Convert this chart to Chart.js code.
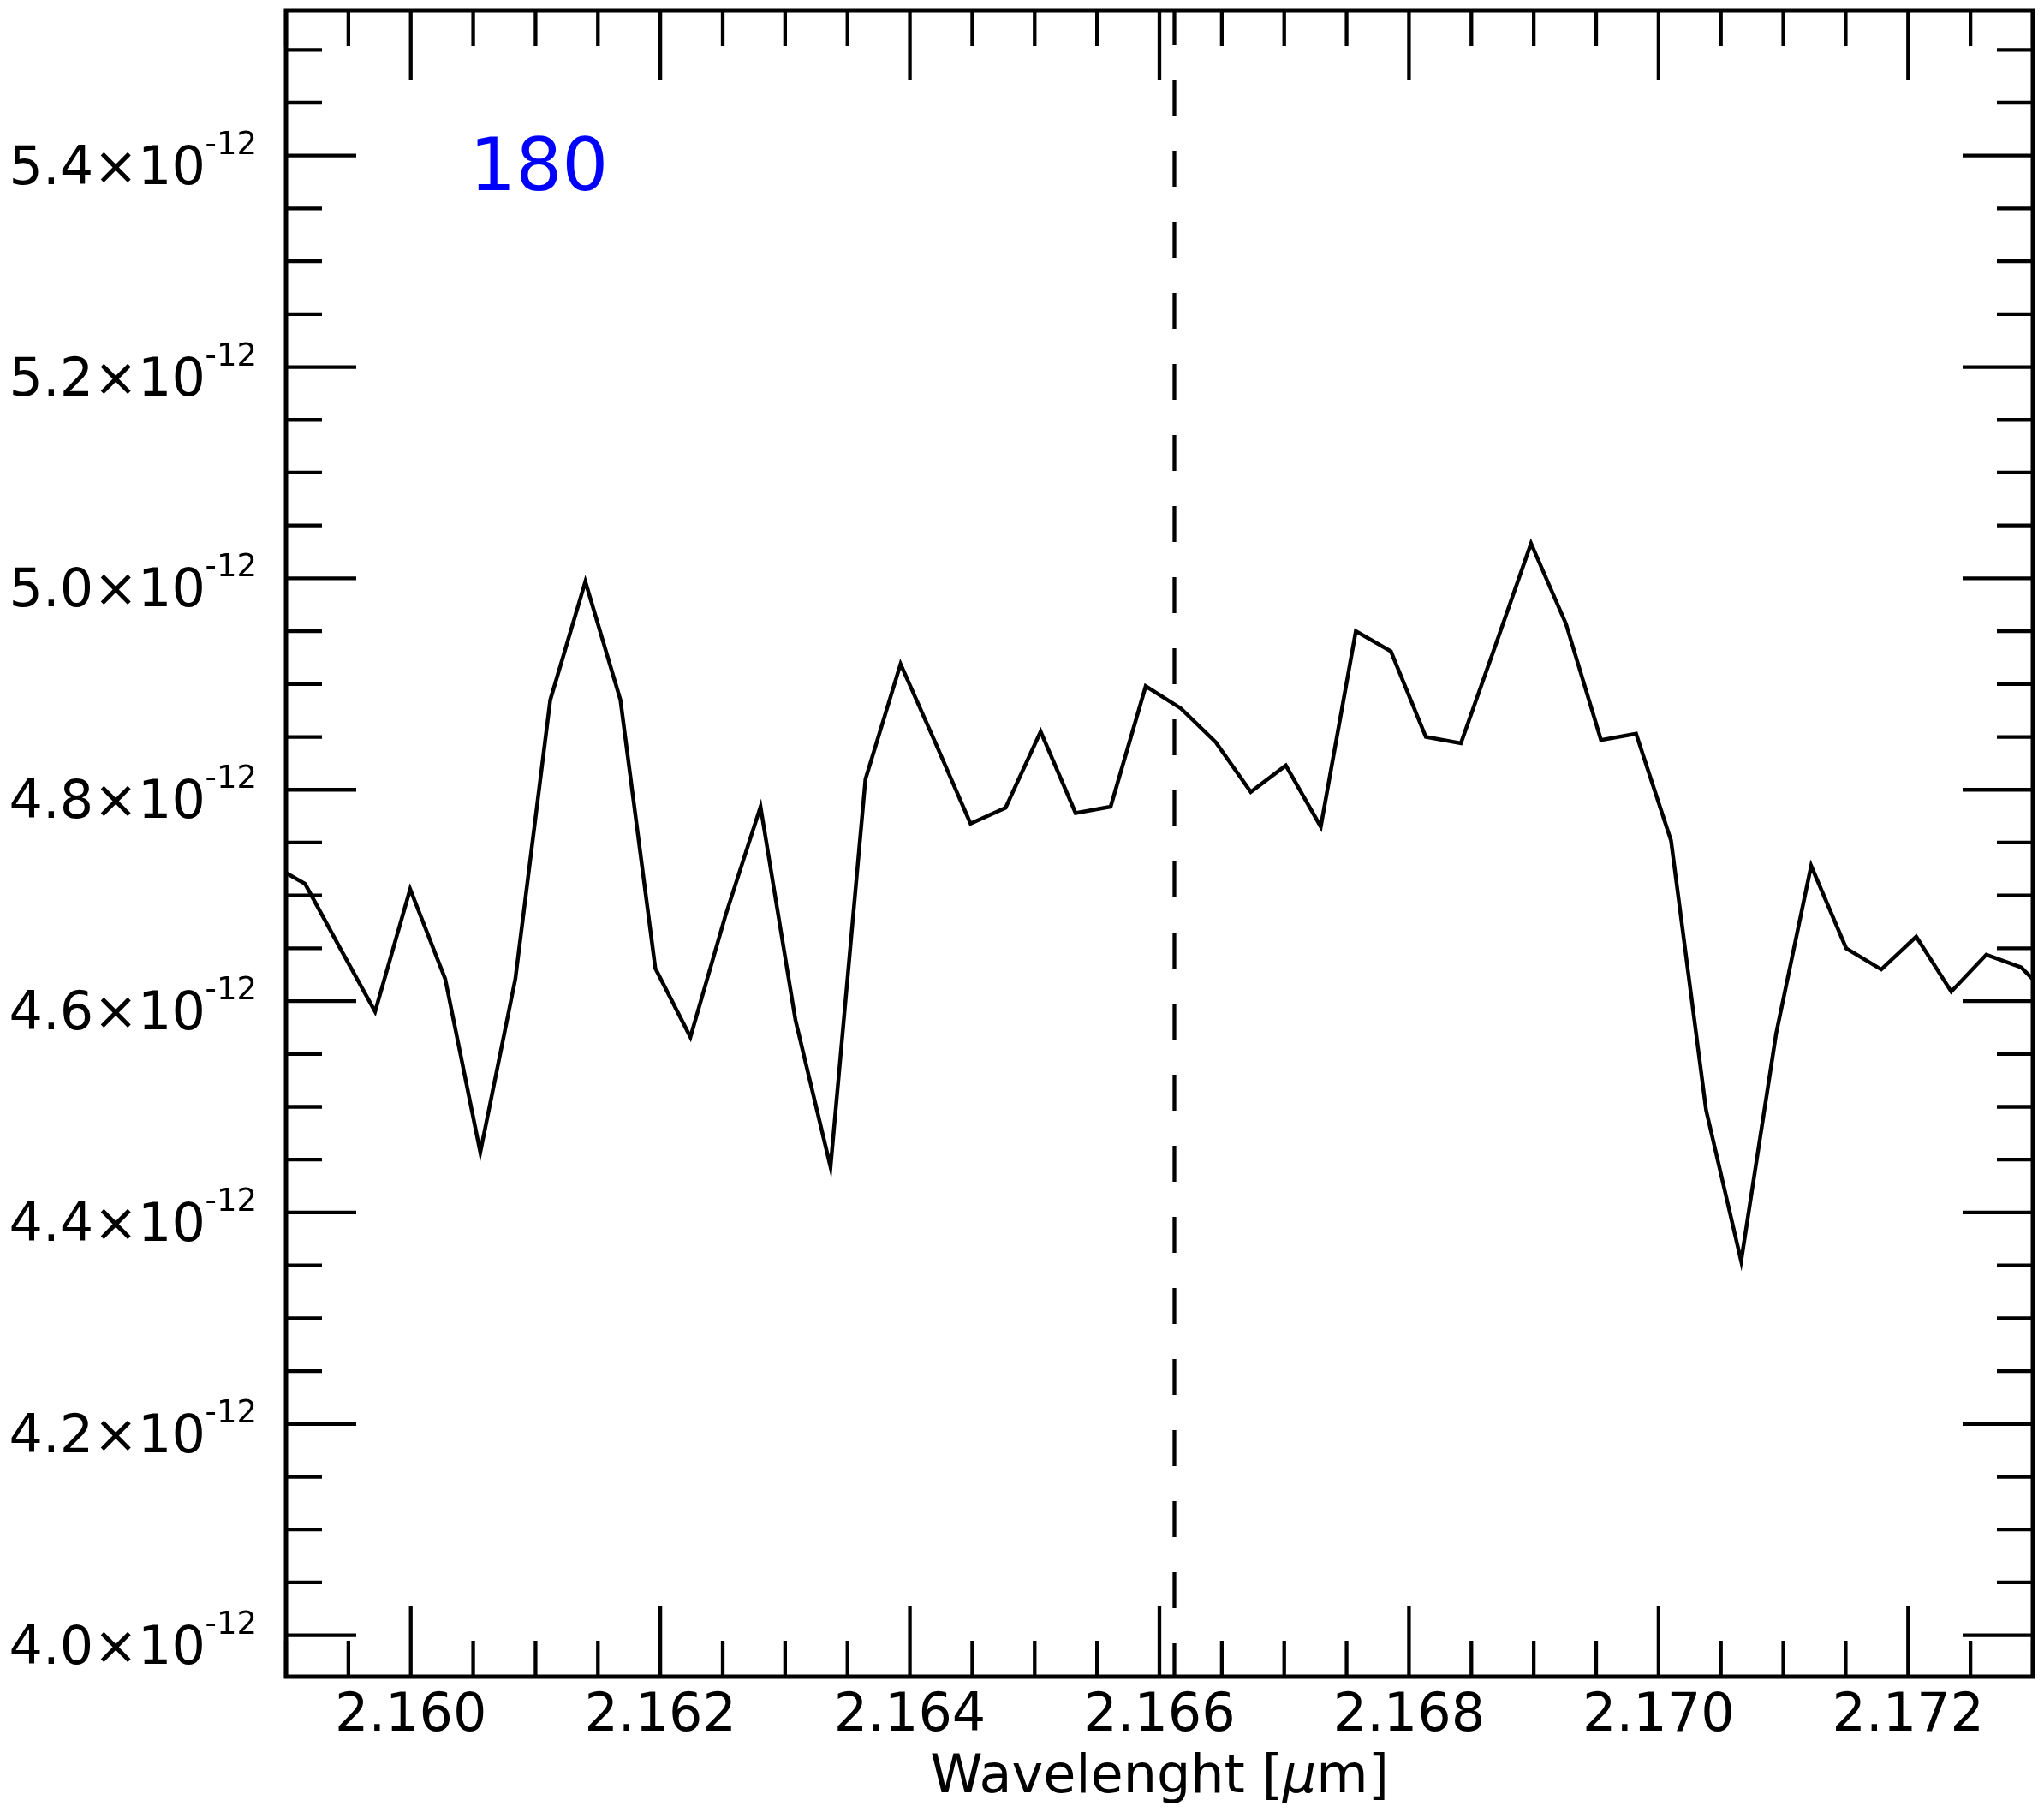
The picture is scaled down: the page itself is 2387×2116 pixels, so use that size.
<!DOCTYPE html>
<html>
<head>
<meta charset="utf-8">
<script src="https://cdn.jsdelivr.net/npm/chart.js@4/dist/chart.umd.min.js"></script>
<style>
    html, body { margin: 0; padding: 0; background: #fff; }
    canvas { display: block; }
</style>
</head>
<body>
<canvas id="spectrumChart" width="2387" height="2116"></canvas>
<script>
// Wavelength of each spectral pixel [micron]
const wavelength = [
    2.158872, 2.159153, 2.159434, 2.159714, 2.159995, 2.160276, 2.160557, 2.160838,
    2.161118, 2.161399, 2.161680, 2.161960, 2.162241, 2.162522, 2.162803, 2.163083,
    2.163364, 2.163644, 2.163925, 2.164206, 2.164486, 2.164767, 2.165048, 2.165328,
    2.165609, 2.165890, 2.166171, 2.166451, 2.166732, 2.167013, 2.167293, 2.167574,
    2.167855, 2.168135, 2.168416, 2.168697, 2.168978, 2.169258, 2.169539, 2.169820,
    2.170100, 2.170381, 2.170662, 2.170942, 2.171223, 2.171504, 2.171785, 2.172065,
    2.172346, 2.172627, 2.172907, 2.173188
];

// Flux, in units of 1e-12
const flux = [
    4.730, 4.711, 4.650, 4.590, 4.706, 4.621, 4.457, 4.621,
    4.885, 4.997, 4.885, 4.631, 4.566, 4.681, 4.784, 4.582,
    4.443, 4.810, 4.919, 4.844, 4.768, 4.783, 4.855, 4.778,
    4.784, 4.898, 4.877, 4.845, 4.798, 4.823, 4.765, 4.950,
    4.931, 4.850, 4.844, 4.938, 5.033, 4.957, 4.847, 4.853,
    4.752, 4.497, 4.354, 4.569, 4.728, 4.650, 4.630, 4.661,
    4.609, 4.644, 4.632, 4.598
];

const FLUX_UNIT = 1e-12;

// Axes
const xTicks = [2.160, 2.162, 2.164, 2.166, 2.168, 2.170, 2.172];
const yTicks = [4.0, 4.2, 4.4, 4.6, 4.8, 5.0, 5.2, 5.4];
const xRange = [2.159, 2.173];
const yRange = [3.9608, 5.5375];
const xMinorStep = 0.0005;
const yMinorStep = 0.05;

// Marked line (Br gamma) and panel label
const lineCenter = 2.16612;
const panelLabel = '180';

const FONT = '"DejaVu Sans", "Liberation Sans", sans-serif';

const points = wavelength.map((w, i) => ({ x: w, y: flux[i] * FLUX_UNIT }));

// Frame, inward ticks on all sides, y labels with exponent, x title, panel label
const framePlugin = {
    id: 'frame',
    afterDatasetsDraw(chart) {
        const ctx = chart.ctx;
        const ca = chart.chartArea;
        const xs = chart.scales.x;
        const ys = chart.scales.y;

        ctx.save();
        ctx.strokeStyle = '#000';
        ctx.lineWidth = 4.3;
        ctx.lineCap = 'butt';

        function line(x1, y1, x2, y2) {
            ctx.beginPath();
            ctx.moveTo(x1, y1);
            ctx.lineTo(x2, y2);
            ctx.stroke();
        }
        function xTick(v, len) {
            const px = xs.getPixelForValue(v);
            line(px, ca.bottom, px, ca.bottom - len);
            line(px, ca.top, px, ca.top + len);
        }
        function yTick(v, len) {
            const py = ys.getPixelForValue(v);
            line(ca.left, py, ca.left + len, py);
            line(ca.right, py, ca.right - len, py);
        }

        // minor ticks
        for (let k = Math.ceil(xRange[0] / xMinorStep - 1e-6); k * xMinorStep <= xRange[1] + 1e-9; k++) {
            const v = k * xMinorStep;
            if (xTicks.some(t => Math.abs(t - v) < 1e-7)) continue;
            xTick(v, 42);
        }
        for (let k = Math.ceil(yRange[0] / yMinorStep - 1e-6); k * yMinorStep <= yRange[1] + 1e-9; k++) {
            const v = k * yMinorStep;
            if (yTicks.some(t => Math.abs(t - v) < 1e-6)) continue;
            yTick(v * FLUX_UNIT, 42);
        }
        // major ticks
        xTicks.forEach(v => xTick(v, 82));
        yTicks.forEach(v => yTick(v * FLUX_UNIT, 82));

        // frame
        ctx.lineWidth = 5;
        ctx.strokeRect(ca.left, ca.top, ca.right - ca.left, ca.bottom - ca.top);

        // y tick labels: "5.4×10" with superscript "-12"
        ctx.fillStyle = '#000';
        ctx.textBaseline = 'alphabetic';
        ctx.textAlign = 'right';
        yTicks.forEach(v => {
            const py = ys.getPixelForValue(v * FLUX_UNIT);
            ctx.font = '62px ' + FONT;
            ctx.fillText(v.toFixed(1) + '×10', ca.left - 94, py + 33);
            ctx.font = '37px ' + FONT;
            ctx.fillText('-12', ca.left - 34, py - 2);
        });

        // x axis title with italic mu
        const parts = [
            { t: 'Wavelenght [', f: '62px ' + FONT },
            { t: 'μ', f: 'italic 62px ' + FONT },
            { t: 'm]', f: '62px ' + FONT }
        ];
        let total = 0;
        parts.forEach(p => { ctx.font = p.f; p.w = ctx.measureText(p.t).width; total += p.w; });
        let tx = (ca.left + ca.right) / 2 - total / 2;
        ctx.textAlign = 'left';
        parts.forEach(p => {
            ctx.font = p.f;
            ctx.fillText(p.t, tx, 2093);
            tx += p.w;
        });

        // panel label
        ctx.fillStyle = '#0000ff';
        ctx.font = '85px ' + FONT;
        ctx.fillText(panelLabel,
            ca.left + 0.105 * (ca.right - ca.left),
            ca.top + 0.108 * (ca.bottom - ca.top));

        ctx.restore();
    }
};

const ctx = document.getElementById('spectrumChart').getContext('2d');
new Chart(ctx, {
    type: 'scatter',
    data: {
        datasets: [
            {
                data: points,
                showLine: true,
                borderColor: '#000',
                borderWidth: 4.5,
                pointRadius: 0,
                tension: 0,
                clip: 0
            },
            {
                data: [
                    { x: lineCenter, y: yRange[0] * FLUX_UNIT },
                    { x: lineCenter, y: yRange[1] * FLUX_UNIT }
                ],
                showLine: true,
                borderColor: '#000',
                borderWidth: 4.3,
                borderDash: [42, 41],
                borderDashOffset: 3,
                pointRadius: 0,
                clip: 0
            }
        ]
    },
    options: {
        responsive: false,
        animation: false,
        events: [],
        layout: { padding: { left: 0, top: 12, right: 13, bottom: 0 } },
        plugins: {
            legend: { display: false },
            tooltip: { enabled: false }
        },
        scales: {
            x: {
                type: 'linear',
                position: 'bottom',
                min: xRange[0],
                max: xRange[1],
                grid: { display: false, drawTicks: false },
                border: { display: false },
                afterBuildTicks: s => { s.ticks = xTicks.map(v => ({ value: v })); },
                afterFit: s => { s.height = 158; },
                ticks: {
                    color: '#000',
                    font: { family: FONT, size: 62 },
                    padding: 10,
                    maxRotation: 0,
                    autoSkip: false,
                    callback: v => Number(v).toFixed(3)
                }
            },
            y: {
                type: 'linear',
                position: 'left',
                min: yRange[0] * FLUX_UNIT,
                max: yRange[1] * FLUX_UNIT,
                grid: { display: false, drawTicks: false },
                border: { display: false },
                afterBuildTicks: s => { s.ticks = yTicks.map(v => ({ value: v * FLUX_UNIT })); },
                afterFit: s => { s.width = 334; },
                ticks: { display: false }
            }
        }
    },
    plugins: [framePlugin]
});
</script>
</body>
</html>
